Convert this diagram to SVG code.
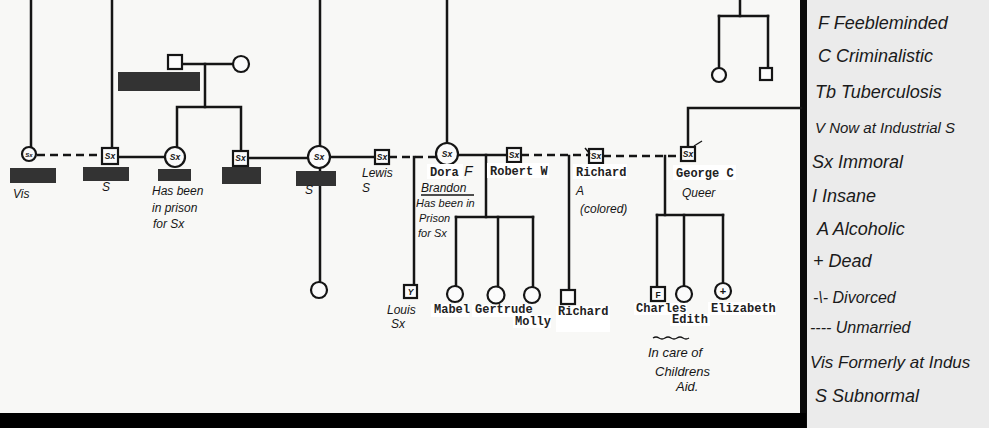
<svg xmlns="http://www.w3.org/2000/svg" width="989" height="428" viewBox="0 0 989 428">
<style>
.ln{fill:none;stroke:#151515;stroke-width:2.5;stroke-linecap:square}
.ds{fill:none;stroke:#151515;stroke-width:2.5;stroke-dasharray:8 5}
.sym{fill:#fbfbfb;stroke:#151515;stroke-width:2.2}
.in{font-family:"Liberation Sans",sans-serif;font-style:italic;font-weight:bold;font-size:8.5px;fill:#151515;text-anchor:middle}
.hw{font-family:"Liberation Sans",sans-serif;font-style:italic;font-size:12px;fill:#151515}
.tp{font-family:"Liberation Mono","DejaVu Sans Mono",monospace;font-weight:bold;font-size:12px;fill:#222}
.lg{font-family:"Liberation Sans",sans-serif;font-style:italic;font-size:18px;fill:#1a1a1a}
.wb{fill:#ffffff}
.red{fill:#333333}
</style>
<rect x="0" y="0" width="989" height="428" fill="#f8f8f6"/>
<rect x="806" y="0" width="183" height="428" fill="#ebebeb"/>
<rect x="800" y="0" width="7" height="428" fill="#0a0a0a"/>
<rect x="0" y="413" width="806" height="15" fill="#000"/>

<g id="connectors">
<path class="ln" d="M31,0 V147"/>
<path class="ds" d="M37,155 H102"/>
<path class="ln" d="M112,0 V148"/>
<path class="ln" d="M118,157 H165"/>
<path class="ln" d="M177,147 V107 H241 V150"/>
<path class="ln" d="M205,107 V64"/>
<path class="ln" d="M182,64 H233"/>
<path class="ln" d="M247,158 H308"/>
<path class="ln" d="M320,0 V146"/>
<path class="ln" d="M320,168 V282"/>
<path class="ln" d="M330,157 H375"/>
<path class="ds" d="M389,157 H436"/>
<path class="ln" d="M414,157 V285"/>
<path class="ln" d="M447,0 V143"/>
<path class="ln" d="M458,155 H507"/>
<path class="ln" d="M486,155 V217"/>
<path class="ln" d="M456,217 H533"/>
<path class="ln" d="M456,217 V286"/>
<path class="ln" d="M498,217 V287"/>
<path class="ln" d="M533,217 V287"/>
<path class="ds" d="M521,155 H589"/>
<path class="ln" d="M569,156 V291"/>
<path class="ds" d="M603,156 H681"/>
<path class="ln" d="M665,156 V215"/>
<path class="ln" d="M657,215 H723"/>
<path class="ln" d="M657,215 V288"/>
<path class="ln" d="M684,215 V286"/>
<path class="ln" d="M723,215 V283"/>
<path class="ln" d="M688,147 V108 H801"/>
<path class="ln" d="M740,0 V16"/>
<path class="ln" d="M719,16 H768"/>
<path class="ln" d="M719,16 V68"/>
<path class="ln" d="M768,16 V68"/>
</g>

<g id="redactions">
<rect class="red" x="118" y="72" width="82" height="19"/>
<rect class="red" x="10" y="168" width="46" height="15"/>
<rect class="red" x="83" y="167" width="46" height="14"/>
<rect class="red" x="158" y="169" width="33" height="12"/>
<rect class="red" x="222" y="167" width="39" height="17"/>
<rect class="red" x="296" y="171" width="40" height="15"/>
</g>

<g id="n-vis">
<circle class="sym" cx="29" cy="154" r="7"/>
<text class="in" x="29" y="157" style="font-size:6px">Sx</text>
<text class="hw" x="13" y="198">Vis</text>
</g>
<g id="n-sq1">
<rect class="sym" x="102" y="148" width="16" height="16"/>
<text class="in" x="110" y="159">Sx</text>
<text class="hw" x="102" y="191">S</text>
</g>
<g id="n-parent-m">
<rect class="sym" x="168" y="55" width="14" height="14"/>
</g>
<g id="n-parent-f">
<circle class="sym" cx="241" cy="64" r="8"/>
</g>
<g id="n-c175">
<circle class="sym" cx="175" cy="157" r="10"/>
<text class="in" x="175" y="160">Sx</text>
<text class="hw" x="152" y="195">Has been</text>
<text class="hw" x="152" y="212">in prison</text>
<text class="hw" x="153" y="228">for Sx</text>
</g>
<g id="n-sq240">
<rect class="sym" x="233" y="151" width="15" height="15"/>
<text class="in" x="240.5" y="161">Sx</text>
</g>
<g id="n-c319">
<circle class="sym" cx="319" cy="157" r="11"/>
<text class="in" x="319" y="160">Sx</text>
<text class="hw" x="305" y="194">S</text>
</g>
<g id="n-c319b">
<circle class="sym" cx="319" cy="290" r="8"/>
</g>
<g id="n-lewis">
<rect class="sym" x="375" y="150" width="14" height="14"/>
<text class="in" x="382" y="160">Sx</text>
<text class="hw" x="362" y="177">Lewis</text>
<text class="hw" x="362" y="192">S</text>
</g>
<g id="n-dora">
<circle class="sym" cx="447" cy="154" r="11"/>
<text class="in" x="447" y="157">Sx</text>
<rect class="wb" x="427" y="164" width="36" height="15"/>
<text class="tp" x="430" y="176">Dora</text>
<text class="hw" x="464" y="176" style="font-size:14px">F</text>
<text class="hw" x="421" y="192">Brandon</text>
<path d="M421,195 H474" stroke="#151515" stroke-width="1.3"/>
<text class="hw" x="416" y="207" style="font-size:11px">Has been in</text>
<text class="hw" x="419" y="222" style="font-size:11px">Prison</text>
<text class="hw" x="418" y="237" style="font-size:11px">for Sx</text>
</g>
<g id="n-robert">
<rect class="sym" x="507" y="148" width="14" height="14"/>
<text class="in" x="514" y="158">Sx</text>
<rect class="wb" x="487" y="163" width="62" height="15"/>
<text class="tp" x="490" y="175">Robert W</text>
</g>
<g id="n-richard">
<rect class="sym" x="589" y="149" width="14" height="14"/>
<text class="in" x="596" y="159">Sx</text>
<path d="M585,148 L590,154" stroke="#151515" stroke-width="1.5"/>
<rect class="wb" x="573" y="164" width="54" height="15"/>
<text class="tp" x="576" y="176">Richard</text>
<text class="hw" x="576" y="195">A</text>
<text class="hw" x="580" y="213">(colored)</text>
</g>
<g id="n-george">
<rect class="sym" x="681" y="147" width="14" height="14"/>
<text class="in" x="688" y="157">Sx</text>
<path d="M694,146 L702,141" stroke="#151515" stroke-width="1.3"/>
<rect class="wb" x="673" y="165" width="63" height="15"/>
<text class="tp" x="676" y="177">George C</text>
<text class="hw" x="682" y="197">Queer</text>
</g>
<g id="n-louis">
<rect class="sym" x="404" y="285" width="13" height="13"/>
<text class="in" x="410.5" y="295">Y</text>
<text class="hw" x="387" y="314">Louis</text>
<text class="hw" x="391" y="328">Sx</text>
</g>
<g id="n-mabel">
<circle class="sym" cx="455" cy="294" r="8"/>
<rect class="wb" x="431" y="304" width="38" height="13"/>
<text class="tp" x="434" y="313">Mabel</text>
</g>
<g id="n-gertrude">
<circle class="sym" cx="496" cy="295" r="8.5"/>
<rect class="wb" x="472" y="305" width="60" height="12"/>
<text class="tp" x="475" y="313">Gertrude</text>
</g>
<g id="n-molly">
<circle class="sym" cx="532" cy="295" r="8"/>
<rect class="wb" x="513" y="315" width="38" height="13"/>
<text class="tp" x="515" y="325">Molly</text>
</g>
<g id="n-richard-jr">
<rect class="sym" x="561" y="290" width="14" height="14"/>
<rect class="wb" x="556" y="306" width="54" height="26"/>
<text class="tp" x="558" y="315">Richard</text>
</g>
<g id="n-charles">
<rect class="sym" x="651" y="287" width="14" height="14"/>
<text class="in" x="658" y="298" style="font-style:normal">F</text>
<rect class="wb" x="634" y="303" width="53" height="12"/>
<text class="tp" x="636" y="312">Charles</text>
</g>
<g id="n-edith">
<circle class="sym" cx="684" cy="294" r="8"/>
<rect class="wb" x="670" y="314" width="40" height="12"/>
<text class="tp" x="672" y="323">Edith</text>
</g>
<g id="n-elizabeth">
<circle class="sym" cx="723" cy="291" r="8"/>
<text class="in" x="723" y="295" style="font-style:normal;font-size:11px">+</text>
<rect class="wb" x="708" y="302" width="68" height="13"/>
<text class="tp" x="711" y="312">Elizabeth</text>
</g>
<g id="note-aid">
<path d="M653,338 q3,-2 6,0 t6,0 t6,0 t6,0 t6,0 t6,0" fill="none" stroke="#151515" stroke-width="1.3"/>
<text class="hw" x="648" y="357" style="font-size:13px">In care of</text>
<text class="hw" x="655" y="376" style="font-size:13px">Childrens</text>
<text class="hw" x="676" y="391" style="font-size:13px">Aid.</text>
</g>
<g id="n-top-f">
<circle class="sym" cx="719" cy="75" r="7"/>
</g>
<g id="n-top-m">
<rect class="sym" x="760" y="68" width="12" height="12"/>
</g>

<g id="legend">
<text class="lg" x="818" y="29">F Feebleminded</text>
<text class="lg" x="818" y="62">C Criminalistic</text>
<text class="lg" x="815" y="98">Tb Tuberculosis</text>
<text class="lg" x="815" y="133" style="font-size:15px">V  Now at Industrial S</text>
<text class="lg" x="812" y="168">Sx Immoral</text>
<text class="lg" x="812" y="202">I  Insane</text>
<text class="lg" x="817" y="235">A  Alcoholic</text>
<text class="lg" x="813" y="267">+  Dead</text>
<text class="lg" x="813" y="303" style="font-size:16px">-\-  Divorced</text>
<text class="lg" x="810" y="333" style="font-size:16px">----  Unmarried</text>
<text class="lg" x="810" y="368" style="font-size:17px">Vis Formerly at Indus</text>
<text class="lg" x="815" y="402">S Subnormal</text>
</g>
</svg>
